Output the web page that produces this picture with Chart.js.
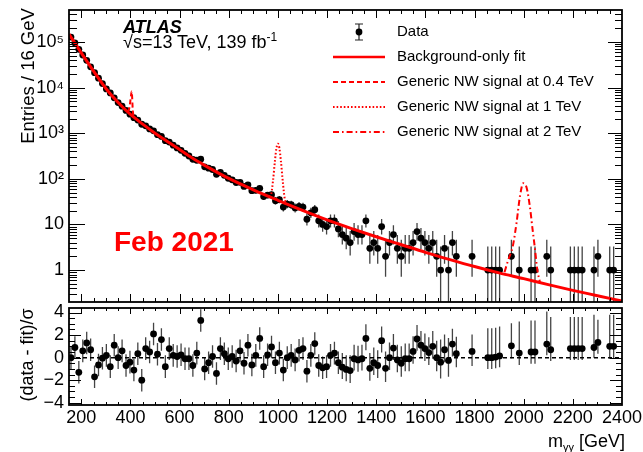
<!DOCTYPE html>
<html>
<head>
<meta charset="utf-8">
<script src="https://cdn.jsdelivr.net/npm/chart.js"></script>
<style>
  body { margin: 0; background: #fff; }
  #wrap { position: relative; width: 643px; height: 452px; overflow: hidden; background: #fff;
          font-family: "Liberation Sans", Arial, Helvetica, sans-serif; }
  canvas { position: absolute; left: 0; }
  .t { position: absolute; white-space: nowrap; line-height: 1; color: #000; }
  .rot { transform: translate(-50%, -50%) rotate(-90deg); }
</style>
</head>
<body>
<div id="wrap">
  <canvas id="main" width="643" height="310" style="top:0"></canvas>
  <canvas id="ratio" width="643" height="152" style="top:300px"></canvas>

  <div class="t" style="left:123px;top:18px;font-size:18px;font-weight:bold;font-style:italic">ATLAS</div>
  <div class="t" style="left:123px;top:33px;font-size:18px">√<span style="text-decoration:overline">s</span>=13 TeV, 139 fb<span style="font-size:12px;position:relative;top:-7px">-1</span></div>
  <div class="t" style="left:114px;top:228px;font-size:28px;font-weight:bold;color:#ff0000">Feb 2021</div>
  <div class="t rot" style="left:28px;top:76px;font-size:18.5px">Entries / 16 GeV</div>
  <div class="t rot" style="left:27px;top:355px;font-size:18px">(data - fit)/σ</div>
  <div class="t" style="right:18px;top:432px;font-size:18px">m<span style="font-size:11px;position:relative;top:4px">γγ</span> [GeV]</div>
</div>

<script>
const FONT = "'Liberation Sans', Arial, Helvetica, sans-serif";
const RED = '#ff0000';

// binning: 16 GeV bins from 150 GeV
const binStart = 150, binWidth = 16;
const massMin = 150, massMax = 2400;

// events per bin (null = empty bin)
const counts = [
  127600, 94680, 68860, 51640, 39460, 28420, 21150, 16020, 12190, 9310,
  7640, 5955, 4680, 3900, 3150, 2610, 2190, 1935, 1570, 1450,
  1240, 1125, 929, 850, 685, 638, 547, 476, 420, 362,
  316, 268, 255, 270, 183, 171, 160, 126, 138, 119,
  103, 95, 83, 84, 68, 74, 55, 56, 62, 41,
  44, 45, 33, 35, 24, 28, 27, 23, 25, 24,
  13, 18, 21, 12, 10, 9, 12, 12, 8, 6,
  5, 4, 7, 6, 6, 12, 3, 4, 3, 9,
  2, 4, 6, 3, 2, 3, 3, 4, 7, 5,
  4, 3, 4, 2, 1, 3, 1, 4, 2, null,
  null, null, 2, null, null, null, 1, 1, 1, 1,
  null, null, 2, null, 1, null, null, 1, 1, null,
  null, 2, 1, null, null, null, null, 1, 1, 1,
  1, null, null, 1, 2, null, null, 1, 1, null
];

// (data - fit)/sigma per bin
const pulls = [
  0.0, 0.9, -1.3, 0.6, 1.3, 0.7, -1.7, -0.65, -0.05, 0.2,
  -0.8, 1.1, 0.0, 0.6, -0.7, -0.4, -1.1, 0.35, -2.0, 0.8,
  0.5, 2.1, 0.3, 1.6, -0.8, 0.8, 0.2, 0.1, 0.25, -0.1,
  -0.1, -0.7, 0.4, 3.3, -1.0, -0.45, 0.1, -1.4, 0.8, 0.35,
  -0.1, 0.1, -0.3, 0.6, -0.5, 1.1, -0.65, 0.2, 1.7, -0.8,
  0.25, 0.95, -0.45, 0.4, -1.1, 0.0, 0.2, -0.2, 0.65, 0.8,
  -1.2, 0.2, 1.25, -0.7, -0.9, -0.8, 0.2, 0.4, -0.45, -0.85,
  -1.05, -1.15, -0.1, -0.2, -0.1, 1.7, -0.95, -0.45, -0.7, 1.5,
  -0.95, 0.0, 0.85, -0.2, -0.5, -0.1, -0.1, 0.55, 1.65, 1.1,
  0.8, 0.45, 1.0, 0.0, -0.4, 0.7, -0.25, 1.2, 0.35, null,
  null, null, 0.55, null, null, null, 0.0, 0.0, 0.05, 0.15,
  null, null, 1.05, null, 0.4, null, null, 0.5, 0.5, null,
  null, 1.2, 0.7, null, null, null, null, 0.8, 0.8, 0.8,
  0.8, null, null, 0.9, 1.35, null, null, 1.0, 1.0, null
];

// pull error bars: +-1 below bin 69 (bins 69..139)
const pullErrFrom = 69;
const pullUpHigh = [
  1.25, 1.25, 1.35, 1.25, 1.25, 1.25, 1.25, 1.35, 1.35, 1.35,
  1.25, 1.5, 1.35, 1.25, 1.35, 1.5, 1.35, 1.35, 1.35, 1.25,
  1.25, 1.35, 1.35, 1.35, 1.5, 2.0, 1.35, 2.0, 1.35, 1.5,
  null, null, null, 1.5, null, null, null, 2.6, 2.6, 2.6,
  2.6, null, null, 2.0, null, 2.8, null, null, 2.8, 2.8,
  null, null, 2.9, 2.9, null, null, null, null, 2.8, 2.8,
  2.8, 2.8, null, null, 2.9, 2.0, null, null, 2.8, 2.8, null
];
const pullDnHigh = [
  1.05, 1.05, 1.1, 1.05, 1.05, 1.05, 1.05, 1.1, 1.1, 1.1,
  1.05, 1.2, 1.1, 1.05, 1.1, 1.2, 1.1, 1.1, 1.1, 1.05,
  1.05, 1.1, 1.1, 1.1, 1.2, 1.45, 1.1, 1.45, 1.1, 1.2,
  null, null, null, 1.3, null, null, null, 1.0, 1.0, 1.0,
  1.0, null, null, 1.1, null, 1.05, null, null, 1.05, 1.05,
  null, null, 1.0, 1.0, null, null, null, null, 1.0, 1.0,
  1.0, 1.0, null, null, 0.9, 1.0, null, null, 1.1, 1.1, null
];

// background-only fit
const fitMass   = [150, 160, 200, 250, 300, 350, 400, 450, 500, 550, 600, 650, 700, 800, 900, 1000,
                   1100, 1200, 1300, 1400, 1500, 1600, 1700, 1800, 1900, 2000, 2100, 2200, 2300, 2400];
const fitValues = [148000, 123000, 57500, 22900, 9550, 4680, 2570, 1580, 1000, 661, 437, 288, 200, 102, 57.5, 33.9,
                   20.4, 12.6, 8.13, 5.37, 3.63, 2.45, 1.70, 1.20, 0.87, 0.65, 0.48, 0.36, 0.275, 0.21];

// signal + background shapes
const sig04Mass   = [388, 394, 398, 402, 405, 407, 409, 412];
const sig04Values = [2950, 3300, 4300, 6500, 8200, 6000, 3500, 2400];
const sig1Mass    = [964, 972, 980, 988, 994, 1000, 1006, 1012, 1020, 1028, 1036];
const sig1Values  = [41, 45, 90, 250, 470, 590, 470, 250, 85, 36, 29];
const sig2Mass    = [1922, 1936, 1956, 1971, 1985, 1998, 2012, 2025, 2036, 2046, 2055, 2066];
const sig2Values  = [0.9, 1.6, 3.4, 11, 42, 80, 64, 25, 7.9, 2.9, 1.05, 0.55];

const xTickValues = [200, 400, 600, 800, 1000, 1200, 1400, 1600, 1800, 2000, 2200, 2400];
const yTickValues = [1, 10, 100, 1000, 10000, 100000];
const yTickLabels = ['1', '10', '10²', '10³', '10⁴', '10⁵'];
const pullTickValues = [-4, -2, 0, 2, 4];
const pullTickLabels = ['−4', '−2', '0', '2', '4'];

const legendLabels = ['Data', 'Background-only fit', 'Generic NW signal at 0.4 TeV',
                      'Generic NW signal at 1 TeV', 'Generic NW signal at 2 TeV'];

// ---------------------------------------------------------------
const centers = counts.map((_, k) => binStart + binWidth * (k + 0.5));
const pts = (xs, ys) => xs.map((x, i) => ({x, y: ys[i]}));

// poisson interval (Wilson-Hilferty)
const poisLo = n => n * Math.pow(1 - 1 / (9 * n) - 1 / (3 * Math.sqrt(n)), 3);
const poisHi = n => { const m = n + 1; return m * Math.pow(1 - 1 / (9 * m) + 1 / (3 * Math.sqrt(m)), 3); };

const mainBars = [], pullBars = [];
counts.forEach((n, k) => {
  if (n == null) return;
  mainBars.push([centers[k], poisLo(n), poisHi(n)]);
  const up = k < pullErrFrom ? 1 : pullUpHigh[k - pullErrFrom];
  const dn = k < pullErrFrom ? 1 : pullDnHigh[k - pullErrFrom];
  pullBars.push([centers[k], pulls[k] - dn, pulls[k] + up]);
});

const mainYTicks = [];
for (let d = -1; d <= 5; d++) for (let m = 1; m <= 9; m++) {
  const v = m * Math.pow(10, d);
  if (v > 0.2 && v < 5e5) mainYTicks.push([v, m === 1]);
}
const pullYTicks = [];
for (let v = -4; v <= 4; v += 0.5) pullYTicks.push([v, v % 2 === 0]);

// error bars under the markers
const errorBars = {
  id: 'errorBars',
  beforeDatasetsDraw(chart, args, o) {
    const {ctx, chartArea: a, scales: {x, y}} = chart;
    ctx.save();
    ctx.beginPath(); ctx.rect(a.left, a.top, a.right - a.left, a.bottom - a.top); ctx.clip();
    ctx.strokeStyle = '#444'; ctx.lineWidth = 1.3;
    ctx.beginPath();
    o.bars.forEach(([m, lo, hi]) => {
      const px = x.getPixelForValue(m);
      ctx.moveTo(px, y.getPixelForValue(lo));
      ctx.lineTo(px, y.getPixelForValue(hi));
    });
    ctx.stroke();
    ctx.restore();
  }
};

// ROOT style frame with inward ticks on all sides
const rootFrame = {
  id: 'rootFrame',
  afterDraw(chart, args, o) {
    const {ctx, chartArea: a, scales: {x, y}} = chart;
    ctx.save();
    ctx.strokeStyle = '#000'; ctx.lineWidth = 1;
    ctx.beginPath();
    for (let v = massMin + 50; v < massMax; v += 50) {
      const px = Math.round(x.getPixelForValue(v)) + 0.5;
      const len = v % 200 === 0 ? o.xMajor : o.xMinor;
      ctx.moveTo(px, a.bottom); ctx.lineTo(px, a.bottom - len);
      ctx.moveTo(px, a.top); ctx.lineTo(px, a.top + len);
    }
    o.yTicks.forEach(([v, major]) => {
      const py = Math.round(y.getPixelForValue(v)) + 0.5;
      ctx.moveTo(a.left, py); ctx.lineTo(a.left + (major ? o.yMajorL : o.yMinorL), py);
      ctx.moveTo(a.right, py); ctx.lineTo(a.right - (major ? o.yMajorR : o.yMinorR), py);
    });
    ctx.stroke();
    ctx.lineWidth = 1.8;
    ctx.strokeRect(a.left, a.top, a.right - a.left, a.bottom - a.top);
    ctx.restore();
  }
};

// legend in the ROOT layout
const rootLegend = {
  id: 'rootLegend',
  afterDraw(chart) {
    const ctx = chart.ctx;
    const x0 = 333, x1 = 385, tx = 397, top = 32, step = 25;
    const dashes = [null, [], [5, 3], [1.6, 2], [6, 3, 1.6, 3]];
    ctx.save();
    ctx.font = `15px ${FONT}`; ctx.fillStyle = '#000'; ctx.textBaseline = 'middle';
    legendLabels.forEach((txt, i) => {
      const y = top + i * step;
      if (i === 0) {
        const cx = (x0 + x1) / 2;
        ctx.strokeStyle = '#222'; ctx.lineWidth = 1.2;
        ctx.beginPath();
        ctx.moveTo(cx, y - 8); ctx.lineTo(cx, y + 8);
        ctx.moveTo(cx - 4, y - 8); ctx.lineTo(cx + 4, y - 8);
        ctx.moveTo(cx - 4, y + 8); ctx.lineTo(cx + 4, y + 8);
        ctx.stroke();
        ctx.beginPath(); ctx.arc(cx, y, 3.4, 0, Math.PI * 2); ctx.fill();
      } else {
        ctx.strokeStyle = RED; ctx.lineWidth = i === 1 ? 2.5 : 2;
        ctx.setLineDash(dashes[i]);
        ctx.beginPath(); ctx.moveTo(x0, y); ctx.lineTo(x1, y); ctx.stroke();
        ctx.setLineDash([]);
      }
      ctx.fillText(txt, tx, y);
    });
    ctx.restore();
  }
};

const noPad = s => { s.paddingTop = 0; s.paddingBottom = 0; s.paddingLeft = 0; s.paddingRight = 0; };
const tickFont = {family: FONT, size: 18};

const lineSet = (data, width, dash) => ({
  data, showLine: true, borderColor: RED, borderWidth: width, borderDash: dash,
  pointRadius: 0, cubicInterpolationMode: 'monotone', fill: false
});

// =========================== main panel ===========================
new Chart(document.getElementById('main'), {
  type: 'scatter',
  data: {
    datasets: [
      lineSet(pts(fitMass, fitValues), 3, []),
      lineSet(pts(sig04Mass, sig04Values), 2, [5, 3]),
      lineSet(pts(sig1Mass, sig1Values), 2, [1.6, 2]),
      lineSet(pts(sig2Mass, sig2Values), 2, [6, 3, 1.6, 3]),
      {
        data: pts(centers, counts),
        pointRadius: 3.4, pointBackgroundColor: '#000', pointBorderColor: '#000', pointBorderWidth: 0
      }
    ]
  },
  options: {
    responsive: false, animation: false, devicePixelRatio: 1,
    layout: {padding: {top: 10, right: 21, bottom: 8, left: 0}},
    plugins: {
      legend: {display: false}, tooltip: {enabled: false},
      errorBars: {bars: mainBars},
      rootFrame: {yTicks: mainYTicks, xMajor: 8, xMinor: 4, yMajorL: 16, yMinorL: 8, yMajorR: 14, yMinorR: 7}
    },
    scales: {
      x: {type: 'linear', min: massMin, max: massMax, display: false},
      y: {
        type: 'logarithmic', min: 0.2, max: 5e5,
        grid: {display: false, drawTicks: false, tickLength: 0}, border: {display: false},
        afterBuildTicks: s => { s.ticks = yTickValues.map(v => ({value: v})); },
        afterFit: s => { s.width = 69; noPad(s); },
        ticks: {padding: 5, font: tickFont, color: '#000', autoSkip: false, callback: (v, i) => yTickLabels[i]}
      }
    }
  },
  plugins: [errorBars, rootFrame, rootLegend]
});

// =========================== ratio panel ===========================
new Chart(document.getElementById('ratio'), {
  type: 'scatter',
  data: {
    datasets: [
      {
        data: pts(centers, pulls),
        pointRadius: 3.4, pointBackgroundColor: '#000', pointBorderColor: '#000', pointBorderWidth: 0
      },
      {
        data: [{x: massMin, y: 0}, {x: massMax, y: 0}], showLine: true,
        borderColor: '#000', borderWidth: 1.5, borderDash: [4, 3], pointRadius: 0
      }
    ]
  },
  options: {
    responsive: false, animation: false, devicePixelRatio: 1,
    layout: {padding: {top: 8, right: 21, bottom: 0, left: 0}},
    plugins: {
      legend: {display: false}, tooltip: {enabled: false},
      errorBars: {bars: pullBars},
      rootFrame: {yTicks: pullYTicks, xMajor: 6, xMinor: 3, yMajorL: 12, yMinorL: 6, yMajorR: 12, yMinorR: 6}
    },
    scales: {
      x: {
        type: 'linear', min: massMin, max: massMax,
        grid: {display: false, drawTicks: false, tickLength: 0}, border: {display: false},
        afterBuildTicks: s => { s.ticks = xTickValues.map(v => ({value: v})); },
        afterFit: s => { s.height = 47; noPad(s); },
        ticks: {padding: 2, font: tickFont, color: '#000', autoSkip: false, maxRotation: 0, callback: v => String(v)}
      },
      y: {
        type: 'linear', min: -4.2, max: 4.4,
        grid: {display: false, drawTicks: false, tickLength: 0}, border: {display: false},
        afterBuildTicks: s => { s.ticks = pullTickValues.map(v => ({value: v})); },
        afterFit: s => { s.width = 69; noPad(s); },
        ticks: {padding: 5, font: tickFont, color: '#000', autoSkip: false, callback: (v, i) => pullTickLabels[i]}
      }
    }
  },
  plugins: [errorBars, rootFrame]
});
</script>
</body>
</html>
